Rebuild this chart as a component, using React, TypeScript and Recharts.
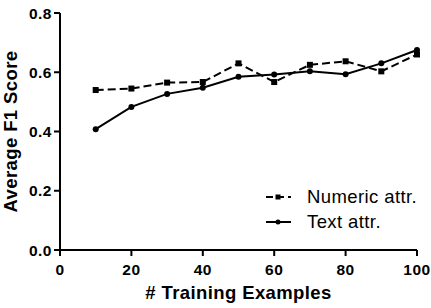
import React from 'react';
import { LineChart, Line, XAxis, YAxis } from 'recharts';

const examples = [10, 20, 30, 40, 50, 60, 70, 80, 90, 100];
const numericAttr = [0.54, 0.545, 0.565, 0.567, 0.63, 0.567, 0.625, 0.637, 0.603, 0.66];
const textAttr = [0.408, 0.483, 0.527, 0.548, 0.585, 0.592, 0.603, 0.593, 0.63, 0.675];
const xTicks = [0, 20, 40, 60, 80, 100];
const yTicks = [0, 0.2, 0.4, 0.6, 0.8];
const seriesNames = ['Numeric attr.', 'Text attr.'];

const data = examples.map((x, i) => ({ x, numeric: numericAttr[i], text: textAttr[i] }));

const FONT = '"Liberation Sans", Arial, sans-serif';

const SquareDot = (props: any) => {
  const { cx, cy, index } = props;
  if (cx == null || cy == null) return null;
  return <rect key={`sq-${index}`} x={cx - 3} y={cy - 3} width={6} height={6} fill="#000" />;
};
const CircleDot = (props: any) => {
  const { cx, cy, index } = props;
  if (cx == null || cy == null) return null;
  return <circle key={`ci-${index}`} cx={cx} cy={cy} r={3} fill="#000" />;
};

const LegendBox = () => (
  <div style={{ position: 'absolute', left: 265, top: 185, fontFamily: FONT, fontSize: 18.5, letterSpacing: 0.4, color: '#000', lineHeight: '24.5px' }}>
    {seriesNames.map((name, i) => (
      <div key={name} style={{ display: 'flex', alignItems: 'center', height: 24.5, whiteSpace: 'nowrap' }}>
        <svg width={42} height={12} style={{ display: 'block' }}>
          <line x1={1} y1={6} x2={26} y2={6} stroke="#000" strokeWidth={2} strokeDasharray={i === 0 ? '7 4' : undefined} />
          {i === 0 ? <rect x={10.5} y={3.5} width={5} height={5} fill="#000" /> : <circle cx={13} cy={6} r={2.5} fill="#000" />}
        </svg>
        <span>{name}</span>
      </div>
    ))}
  </div>
);

export default function App() {
  return (
    <div style={{ position: 'absolute', left: 0, top: 0, width: 431, height: 308, background: '#fff' }}>
      <LineChart width={431} height={308} data={data} margin={{ top: 13, right: 14, left: 0, bottom: 0 }}>
        <XAxis
          dataKey="x"
          type="number"
          domain={[0, 100]}
          ticks={xTicks}
          height={58}
          tickSize={6}
          tickMargin={8}
          stroke="#000"
          strokeWidth={2}
          tick={{ fill: '#000', fontFamily: FONT, fontSize: 15.5, fontWeight: 'bold', letterSpacing: 0.5 }}
          label={(p: any) => {
            const vb = p.viewBox || {};
            return (
              <text x={vb.x + vb.width / 2} y={vb.y + 49} textAnchor="middle" fontFamily={FONT} fontSize={18.5} letterSpacing={0.4} fontWeight="bold" fill="#000">
                # Training Examples
              </text>
            );
          }}
        />
        <YAxis
          type="number"
          domain={[0, 0.8]}
          ticks={yTicks}
          width={60}
          tickSize={6}
          tickMargin={2}
          stroke="#000"
          strokeWidth={2}
          tickFormatter={(v: number) => v.toFixed(1)}
          tick={{ fill: '#000', fontFamily: FONT, fontSize: 15.5, fontWeight: 'bold', letterSpacing: 0.5 }}
          label={(p: any) => {
            const vb = p.viewBox || {};
            const cy = vb.y + vb.height / 2;
            return (
              <text x={17} y={cy} transform={`rotate(-90, 17, ${cy})`} textAnchor="middle" fontFamily={FONT} fontSize={18.5} letterSpacing={0.4} fontWeight="bold" fill="#000">
                Average F1 Score
              </text>
            );
          }}
        />
        <Line
          dataKey="numeric"
          name={seriesNames[0]}
          stroke="#000"
          strokeWidth={2}
          strokeDasharray="8 4"
          dot={SquareDot}
          activeDot={false}
          isAnimationActive={false}
        />
        <Line
          dataKey="text"
          name={seriesNames[1]}
          stroke="#000"
          strokeWidth={2}
          dot={CircleDot}
          activeDot={false}
          isAnimationActive={false}
        />
      </LineChart>
      <LegendBox />
    </div>
  );
}
